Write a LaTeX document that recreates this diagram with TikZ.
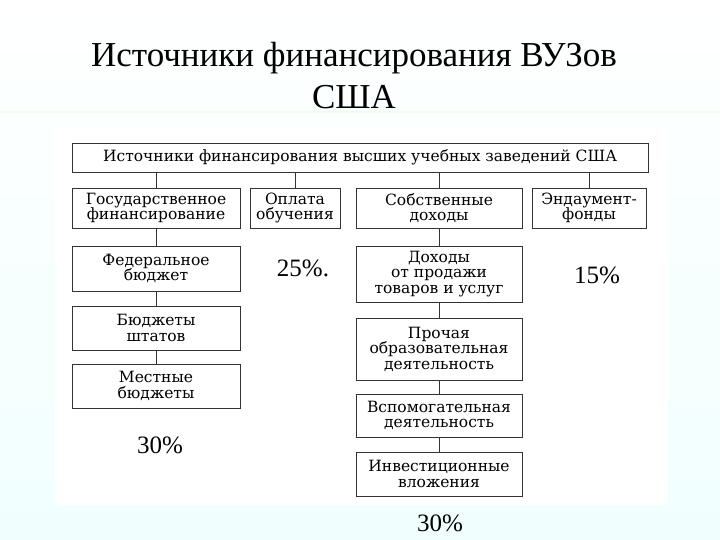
\documentclass[tikz,border=0pt]{standalone}
\usepackage{fontspec}
\setmainfont{Liberation Serif}
\newfontfamily\boxfont{DejaVu Serif}
\begin{document}
\begin{tikzpicture}[x=1pt,y=-1pt,
  bx/.style={draw=black!80,line width=0.9pt,fill=white,align=center,font=\boxfont\fontsize{15.5}{15.5}\selectfont,inner sep=0pt},
  ln/.style={draw=black!80,line width=0.9pt},
  pct/.style={font=\fontsize{25}{26}\selectfont}]
\fill[top color=white,bottom color=green!8!cyan!6] (0,0) rectangle (720,540);
\useasboundingbox (0,0) rectangle (720,540);
\draw[white!80!green!40,line width=2pt] (0,112) -- (720,112);
\node[font=\fontsize{35}{42}\selectfont,align=center] (title) at (354,76) {Источники финансирования ВУЗов\\США};
\fill[white] (55,128) rectangle (668,505);
\node[bx,minimum width=576,minimum height=29] (top) at (360,157.5) {Источники финансирования высших учебных заведений США};
\node[bx,minimum width=168,minimum height=40] (gov) at (156,208) {Государственное\\финансирование};
\node[bx,minimum width=90,minimum height=40] (opl) at (295,208) {Оплата\\обучения};
\node[bx,minimum width=166,minimum height=40] (sob) at (439,208) {Собственные\\доходы};
\node[bx,minimum width=114,minimum height=40] (end) at (589,208) {Эндаумент-\\фонды};
\node[bx,minimum width=168,minimum height=45] (fed) at (156,268.5) {Федеральное\\бюджет};
\node[bx,minimum width=168,minimum height=44] (sht) at (156,328) {Бюджеты\\штатов};
\node[bx,minimum width=168,minimum height=44] (mes) at (156,386) {Местные\\бюджеты};
\node[bx,minimum width=166,minimum height=56] (doh) at (439,274) {Доходы\\от продажи\\товаров и услуг};
\node[bx,minimum width=166,minimum height=62] (pro) at (439,349) {Прочая\\образовательная\\деятельность};
\node[bx,minimum width=166,minimum height=43] (vsp) at (439,415.5) {Вспомогательная\\деятельность};
\node[bx,minimum width=166,minimum height=44] (inv) at (439,474) {Инвестиционные\\вложения};
\foreach \n in {gov,opl,sob,end} \draw[ln] (top.south -| \n.north) -- (\n.north);
\draw[ln] (gov) -- (fed); \draw[ln] (fed) -- (sht); \draw[ln] (sht) -- (mes);
\draw[ln] (sob) -- (doh); \draw[ln] (doh) -- (pro); \draw[ln] (pro) -- (vsp); \draw[ln] (vsp) -- (inv);
\node[pct] (p25) at (303,268) {25\%.};
\node[pct] (p15) at (597,275) {15\%};
\node[pct] (p30a) at (160,445) {30\%};
\node[pct] (p30b) at (440,523) {30\%};
\end{tikzpicture}
\end{document}
